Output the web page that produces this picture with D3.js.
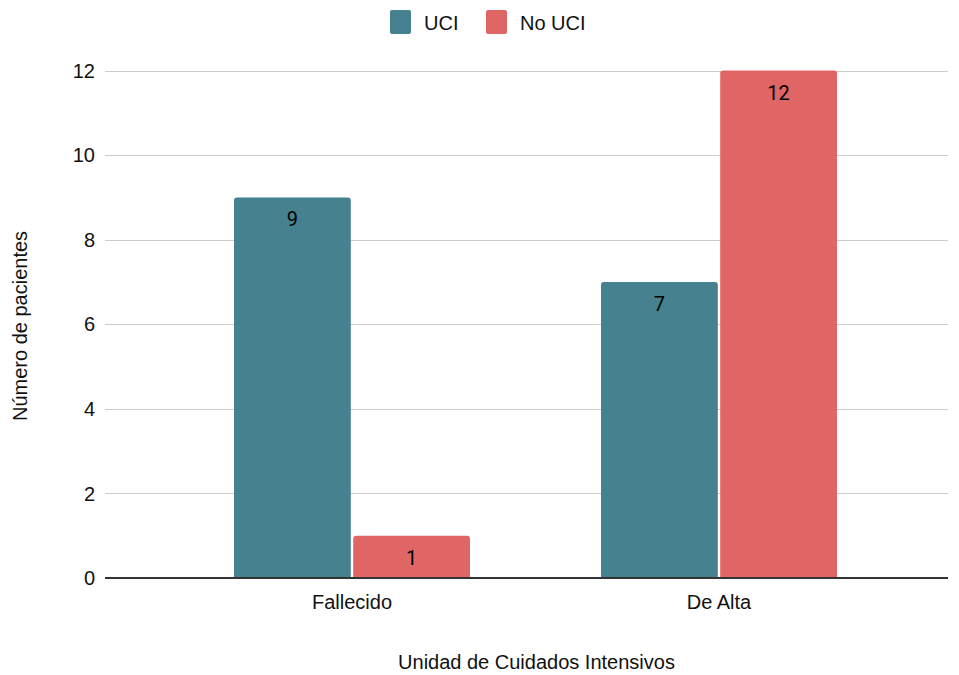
<!DOCTYPE html>
<html>
<head>
<meta charset="utf-8">
<script src="https://cdn.jsdelivr.net/npm/d3@7"></script>
<style>
  body { margin: 0; background: #fff; }
  svg text { font-family: Arial, "Liberation Sans", Helvetica, sans-serif; }
</style>
</head>
<body>
<svg id="svg1" width="959" height="675"></svg>
<script>
var categories = ['Fallecido', 'De Alta'];
var series = ['UCI', 'No UCI'];
var uciValues = [9, 7];
var noUciValues = [1, 12];
var yTicks = [0, 2, 4, 6, 8, 10, 12];
var colors = ['#45818e', '#e06666'];

var svg = d3.select('#svg1');

var plot = {l: 105, r: 948, t: 70.5, b: 578};

var rows = categories.map(function(c, i) {
    return {cat: c, values: [uciValues[i], noUciValues[i]]};
});

var xScale = d3.scaleBand().domain(categories)
    .range([168.5, 902.5]).paddingInner(0.357).paddingOuter(0.1785);
var xInner = d3.scaleBand().domain(series)
    .range([0, xScale.bandwidth()]).paddingInner(0.02);
var yScale = d3.scaleLinear().domain([0, 12]).range([plot.b, plot.t]);

// gridlines
svg.append('g').selectAll('line')
    .data(yTicks.filter(function(d) { return d > 0; }))
    .enter().append('line')
    .attr('x1', plot.l).attr('x2', plot.r)
    .attr('y1', function(d) { return Math.round(yScale(d)) + 0.5; })
    .attr('y2', function(d) { return Math.round(yScale(d)) + 0.5; })
    .style('stroke', '#cccccc').style('stroke-width', 1.2);

// y tick labels
svg.append('g').selectAll('text')
    .data(yTicks)
    .enter().append('text')
    .attr('x', 95)
    .attr('y', function(d) { return yScale(d); })
    .attr('dy', '0.36em')
    .attr('text-anchor', 'end')
    .style('font-size', '20px').style('fill', '#111')
    .text(function(d) { return d; });

function topRounded(x, y, w, h, r) {
    return 'M' + x + ',' + (y + h) +
        'V' + (y + r) + 'Q' + x + ',' + y + ' ' + (x + r) + ',' + y +
        'H' + (x + w - r) + 'Q' + (x + w) + ',' + y + ' ' + (x + w) + ',' + (y + r) +
        'V' + (y + h) + 'Z';
}

var groups = svg.append('g').selectAll('.group')
    .data(rows)
    .enter().append('g')
    .attr('transform', function(d) { return 'translate(' + [xScale(d.cat), 0] + ')'; });

var bars = groups.selectAll('.bar')
    .data(function(d) { return d.values.map(function(v, i) { return {key: series[i], value: v, i: i}; }); })
    .enter();

bars.append('path')
    .attr('d', function(d) {
        var y = yScale(d.value);
        return topRounded(xInner(d.key), y, xInner.bandwidth(), plot.b - y, 3);
    })
    .style('fill', function(d) { return colors[d.i]; });

bars.append('text')
    .attr('x', function(d) { return xInner(d.key) + xInner.bandwidth() / 2; })
    .attr('y', function(d) { return yScale(d.value) + 29; })
    .attr('text-anchor', 'middle')
    .style('font-family', 'Roboto, sans-serif')
    .style('font-size', '20px').style('fill', '#000')
    .text(function(d) { return d.value; });

// baseline
svg.append('line')
    .attr('x1', plot.l).attr('x2', plot.r)
    .attr('y1', plot.b).attr('y2', plot.b)
    .style('stroke', '#333').style('stroke-width', 2);

// x tick labels
svg.append('g').selectAll('text')
    .data(categories)
    .enter().append('text')
    .attr('x', function(d) { return xScale(d) + xScale.bandwidth() / 2; })
    .attr('y', 609)
    .attr('text-anchor', 'middle')
    .style('font-size', '20px').style('fill', '#111')
    .text(function(d) { return d; });

// axis titles
svg.append('text')
    .attr('x', 536.5).attr('y', 669)
    .attr('text-anchor', 'middle')
    .style('font-size', '20px').style('fill', '#111')
    .text('Unidad de Cuidados Intensivos');

svg.append('text')
    .attr('transform', 'translate(27,326) rotate(-90)')
    .attr('text-anchor', 'middle')
    .style('font-size', '20px').style('fill', '#111')
    .text('Número de pacientes');

// legend
var legendX = [390, 486];
var legend = svg.append('g').selectAll('.legend')
    .data(series)
    .enter().append('g')
    .attr('transform', function(d, i) { return 'translate(' + [legendX[i], 10] + ')'; });

legend.append('rect')
    .attr('width', 21).attr('height', 24).attr('rx', 2)
    .style('fill', function(d, i) { return colors[i]; });

legend.append('text')
    .attr('x', 34).attr('y', 20)
    .style('font-size', '20px').style('fill', '#111')
    .text(function(d) { return d; });
</script>
</body>
</html>
